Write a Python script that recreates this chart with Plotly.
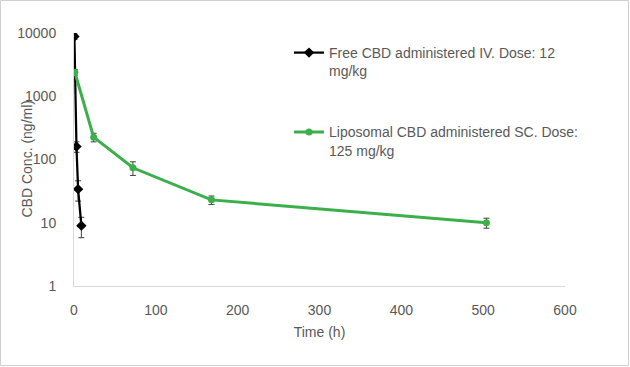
import plotly.graph_objects as go

# Free CBD administered IV (12 mg/kg)
free_time = [0.5, 3, 5, 9]
free_conc = [8800, 160, 34, 9.0]
free_err = [900, 30, 12, 3.2]

# Liposomal CBD administered SC (125 mg/kg)
lipo_time = [1, 24, 72, 168, 504]
lipo_conc = [2400, 225, 74, 23, 10]
lipo_err = [250, 35, 18, 3.5, 1.8]

y_tickvals = [1, 10, 100, 1000, 10000]
y_ticktext = ["1", "10", "100", "1000", "10000"]
x_tickvals = [0, 100, 200, 300, 400, 500, 600]

free_name = "Free CBD administered IV. Dose: 12<br>mg/kg"
lipo_name = "Liposomal CBD administered SC. Dose:<br>125 mg/kg"
x_title = "Time (h)"
y_title = "CBD Conc. (ng/ml)"

GREEN = "#3BAF4A"
TXT = "#595959"
FONT = "Liberation Sans, Arial, sans-serif"

fig = go.Figure()
fig.add_trace(go.Scatter(
    x=free_time, y=free_conc, name=free_name, mode="lines+markers",
    line=dict(color="black", width=2.25),
    marker=dict(symbol="diamond", size=8, color="black"),
    error_y=dict(type="data", array=free_err, color="#404040", thickness=1, width=3),
    legendgroup="a",
))
fig.add_trace(go.Scatter(
    x=lipo_time, y=lipo_conc, name=lipo_name, mode="lines+markers",
    line=dict(color=GREEN, width=3),
    marker=dict(symbol="circle", size=7, color=GREEN),
    error_y=dict(type="data", array=lipo_err, color="#404040", thickness=1, width=3),
    legendgroup="b",
))

W, H = 630, 367
ml, mr, mt, mb = 74, 65, 33, 81
pw, ph = W - ml - mr, H - mt - mb

fig.update_layout(
    width=W, height=H,
    margin=dict(l=ml, r=mr, t=mt, b=mb, autoexpand=False),
    paper_bgcolor="white", plot_bgcolor="white",
    font=dict(family=FONT, size=14, color=TXT),
    showlegend=True,
    legend=dict(
        xref="container", yref="container",
        x=289 / W, y=1 - 37 / H, xanchor="left", yanchor="top",
        bgcolor="rgba(0,0,0,0)", borderwidth=0,
        font=dict(family=FONT, size=14, color=TXT),
        tracegroupgap=40, valign="top", itemwidth=30,
    ),
    xaxis=dict(
        range=[0, 600], tickvals=x_tickvals, showgrid=False, zeroline=False,
        showline=True, linecolor="#D9D9D9", linewidth=1,
        ticks="outside", ticklen=11, tickcolor="rgba(0,0,0,0)",
        title=dict(text=x_title, font=dict(size=14, color=TXT), standoff=10),
    ),
    yaxis=dict(
        type="log", range=[0, 4], tickvals=y_tickvals, ticktext=y_ticktext,
        showgrid=False, zeroline=False, showline=True, linecolor="#D9D9D9",
        linewidth=1, ticks="outside", ticklen=14, tickcolor="rgba(0,0,0,0)",
    ),
    annotations=[dict(
        text=y_title, xref="paper", yref="paper",
        x=(26 - ml) / pw, y=0.5, xanchor="center", yanchor="middle",
        textangle=-90, showarrow=False, font=dict(size=14, color=TXT),
    )],
    shapes=[dict(
        type="rect", xref="paper", yref="paper",
        x0=(0.5 - ml) / pw, x1=(W - 1.5 - ml) / pw,
        y0=-(mb - 1.5) / ph, y1=1 + (mt - 0.5) / ph,
        line=dict(color="#D0D0D0", width=1), layer="below",
    )],
)

fig.write_html("out.html", config={"displayModeBar": False},
               post_script="document.body.style.margin='0';")
